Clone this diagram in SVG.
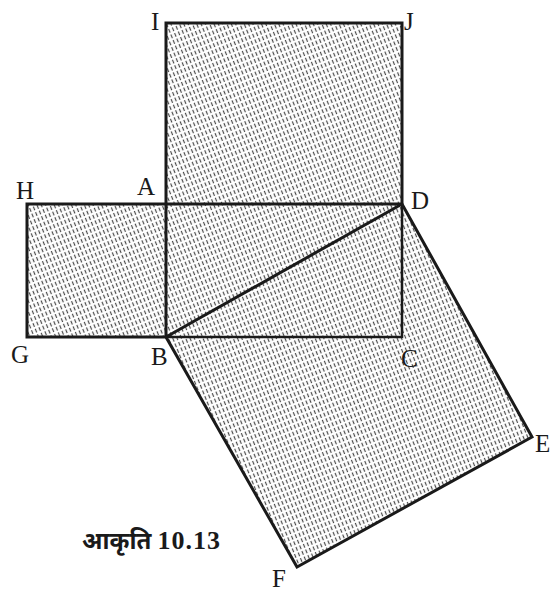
<svg xmlns="http://www.w3.org/2000/svg" width="552" height="592" viewBox="0 0 552 592">
<defs>
<pattern id="hatch" patternUnits="userSpaceOnUse" width="4" height="6" patternTransform="rotate(-22)">
<rect width="4" height="6" fill="#ffffff"/>
<line x1="1.5" y1="0" x2="1.5" y2="4" stroke="#4a4a4a" stroke-width="1.2"/>
</pattern>
</defs>
<style>
.sh{fill:url(#hatch);stroke:none}
.ed{fill:none;stroke:#1a1a1a;stroke-width:3;stroke-linejoin:miter}
.lb{font-family:"Liberation Serif","Times New Roman",serif;font-size:25px;fill:#1a1a1a}
.cap{font-family:"Noto Sans Devanagari","Lohit Devanagari","Noto Sans","Liberation Serif",serif;font-size:24px;font-weight:bold;fill:#1a1a1a}
.num{font-family:"Liberation Serif","Times New Roman",serif;font-size:26px;font-weight:bold;letter-spacing:1px}
</style>
<g id="square-IJDA"><rect class="sh" x="166" y="23" width="236" height="181"/></g>
<g id="rect-HAGB"><rect class="sh" x="27" y="204" width="139" height="133"/></g>
<g id="rect-ABCD"><rect class="sh" x="166" y="204" width="236" height="133"/></g>
<g id="square-BDEF"><polygon class="sh" points="166,337 402,204 532,437 297,567"/></g>
<g id="connectors">
<polyline class="ed" points="166,204 166,23 402,23 402,204"/>
<polyline class="ed" points="166,204 27,204 27,337 166,337"/>
<line class="ed" x1="166" y1="204" x2="402" y2="204"/>
<line class="ed" x1="166" y1="204" x2="166" y2="337"/>
<polyline class="ed" points="166,337 402,337 402,204" style="stroke-width:2.5"/>
<polygon class="ed" points="166,337 402,204 532,437 297,567"/>
</g>
<g id="labels">
<text class="lb" x="151" y="30">I</text>
<text class="lb" x="404" y="30">J</text>
<text class="lb" x="16" y="199">H</text>
<text class="lb" x="137" y="195">A</text>
<text class="lb" x="411" y="209">D</text>
<text class="lb" x="11" y="363">G</text>
<text class="lb" x="151" y="365">B</text>
<text class="lb" x="401" y="367">C</text>
<text class="lb" x="535" y="452">E</text>
<text class="lb" x="272" y="587">F</text>
<text class="cap" x="82" y="549">आकृति <tspan class="num">10.13</tspan></text>
</g>
</svg>
